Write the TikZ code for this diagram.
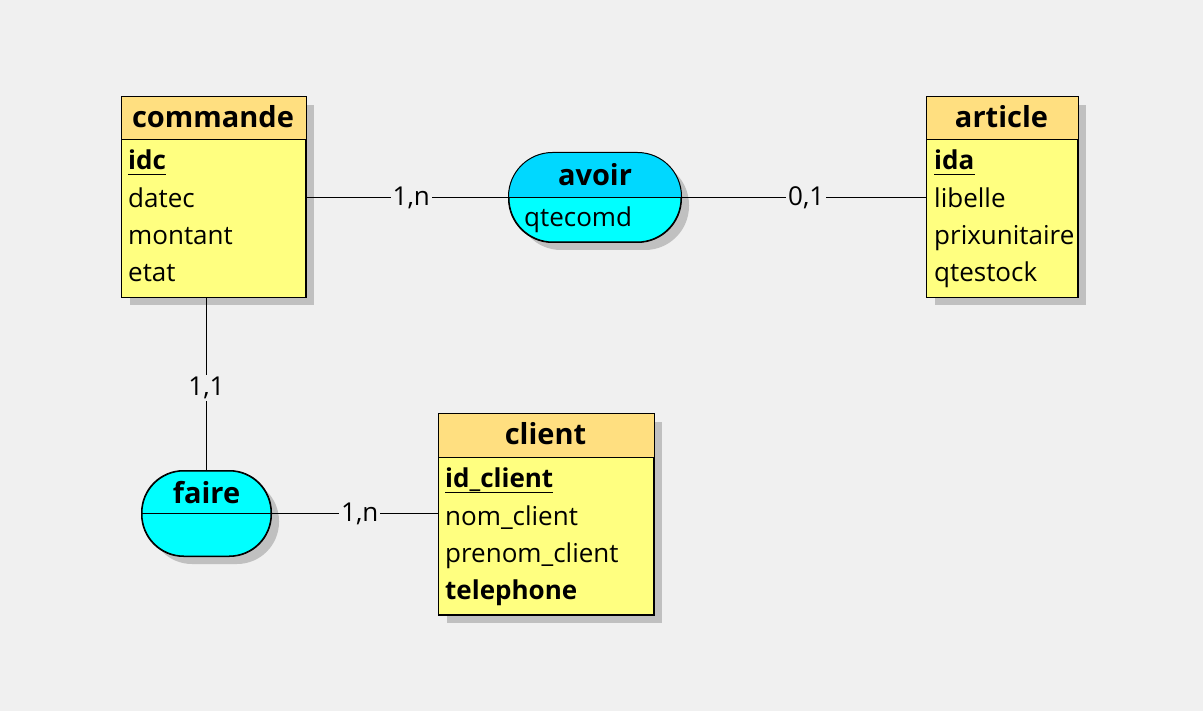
\documentclass[tikz,border=0pt]{standalone}
\usepackage{fontspec}
\setmainfont{Open Sans}
\usetikzlibrary{shadows,calc}
\definecolor{bgc}{HTML}{F0F0F0}
\definecolor{headc}{HTML}{FFDF80}
\definecolor{bodyc}{HTML}{FFFF80}
\definecolor{cyantop}{HTML}{00D8FF}
\definecolor{cyanbot}{HTML}{00FFFF}
\definecolor{shadc}{HTML}{C0C0C0}
\newcommand\attrfont{\fontsize{26}{31}\selectfont}
\tikzset{
  shad/.style={drop shadow={shadow xshift=8pt, shadow yshift=-8pt, fill=shadc, opacity=1}},
  entbox/.style={draw=black, line width=1pt, fill=bodyc, shad, anchor=north west, inner sep=0pt},
  relbox/.style={draw=black, line width=1pt, fill=cyanbot, shad, inner sep=0pt},
  ttl/.style={font=\fontsize{29}{34}\selectfont\bfseries, anchor=base, inner sep=0pt},
  attr/.style={font=\attrfont, anchor=base west, inner sep=0pt},
  keyattr/.style={font=\attrfont\bfseries, anchor=base west, inner sep=0pt},
  card/.style={font=\attrfont, fill=bgc, inner sep=2pt},
  link/.style={draw=black, line width=1pt},
}
\begin{document}
\begin{tikzpicture}[x=1pt,y=-1pt]
\fill[bgc] (0,0) rectangle (1203,711);
\useasboundingbox (0,0) rectangle (1203,711);

% ---------- commande ----------
\node[entbox, minimum width=184pt, minimum height=200pt] (commande) at (121,97) {};
\fill[headc] (commande.north west) rectangle ($(commande.north east)+(0,43)$);
\draw[line width=1pt] ($(commande.north west)+(0,43)$) -- ($(commande.north east)+(0,43)$);
\draw[line width=1pt] (commande.north west) rectangle (commande.south east);
\node[ttl] (tcommande) at (213,128) {commande};
\node[keyattr] (idc) at (128,170) {idc};
\draw[line width=1pt] ($(idc.base west)+(0,5)$) -- ($(idc.base east)+(0,5)$);
\node[attr] (datec) at (128,208) {datec};
\node[attr] (montant) at (128,245) {montant};
\node[attr] (etat) at (128,282) {etat};

% ---------- article ----------
\node[entbox, minimum width=151pt, minimum height=200pt] (article) at (926,97) {};
\fill[headc] (article.north west) rectangle ($(article.north east)+(0,43)$);
\draw[line width=1pt] ($(article.north west)+(0,43)$) -- ($(article.north east)+(0,43)$);
\draw[line width=1pt] (article.north west) rectangle (article.south east);
\node[ttl] (tarticle) at (1001.5,128) {article};
\node[keyattr] (ida) at (934,170) {ida};
\draw[line width=1pt] ($(ida.base west)+(0,5)$) -- ($(ida.base east)+(0,5)$);
\node[attr] (libelle) at (934,208) {libelle};
\node[attr] (prix) at (934,245) {prixunitaire};
\node[attr] (qtestock) at (934,282) {qtestock};

% ---------- client ----------
\node[entbox, minimum width=215pt, minimum height=200pt] (client) at (438,414) {};
\fill[headc] (client.north west) rectangle ($(client.north east)+(0,43)$);
\draw[line width=1pt] ($(client.north west)+(0,43)$) -- ($(client.north east)+(0,43)$);
\draw[line width=1pt] (client.north west) rectangle (client.south east);
\node[ttl] (tclient) at (545.5,445) {client};
\node[keyattr] (idclient) at (445,487) {id\_client};
\draw[line width=1pt] ($(idclient.base west)+(0,5)$) -- ($(idclient.base east)+(0,5)$);
\node[attr] (nom) at (445,525) {nom\_client};
\node[attr] (prenom) at (445,562) {prenom\_client};
\node[keyattr] (tel) at (445,599) {telephone};

% ---------- avoir ----------
\node[relbox, rounded corners=44pt, minimum width=172pt, minimum height=89pt] (avoir) at (595,197.5) {};
\begin{scope}
  \clip[rounded corners=44pt] (avoir.north west) rectangle (avoir.south east);
  \fill[cyantop] (avoir.north west) rectangle (avoir.east);
\end{scope}
\draw[line width=1pt] (avoir.west) -- (avoir.east);
\draw[line width=1pt, rounded corners=44pt] (avoir.north west) rectangle (avoir.south east);
\node[ttl] (tavoir) at (595,186) {avoir};
\node[attr] (qtecomd) at (524,227) {qtecomd};

% ---------- faire ----------
\node[relbox, rounded corners=42pt, minimum width=129pt, minimum height=85pt] (faire) at (206.5,513.5) {};
\draw[line width=1pt] (faire.west) -- (faire.east);
\draw[line width=1pt, rounded corners=42pt] (faire.north west) rectangle (faire.south east);
\node[ttl] (tfaire) at (206.5,503) {faire};

% ---------- links ----------
\path[link] (commande.east) -- node[card, pos=0.52] {1,n} (avoir.west);
\path[link] (avoir.east) -- node[card, pos=0.51] {0,1} (article.west);
\path[link] (faire.north |- commande.south) -- node[card, pos=0.52] {1,1} (faire.north);
\path[link] (faire.east) -- node[card, pos=0.53] {1,n} (client.west |- faire.east);
\end{tikzpicture}
\end{document}
